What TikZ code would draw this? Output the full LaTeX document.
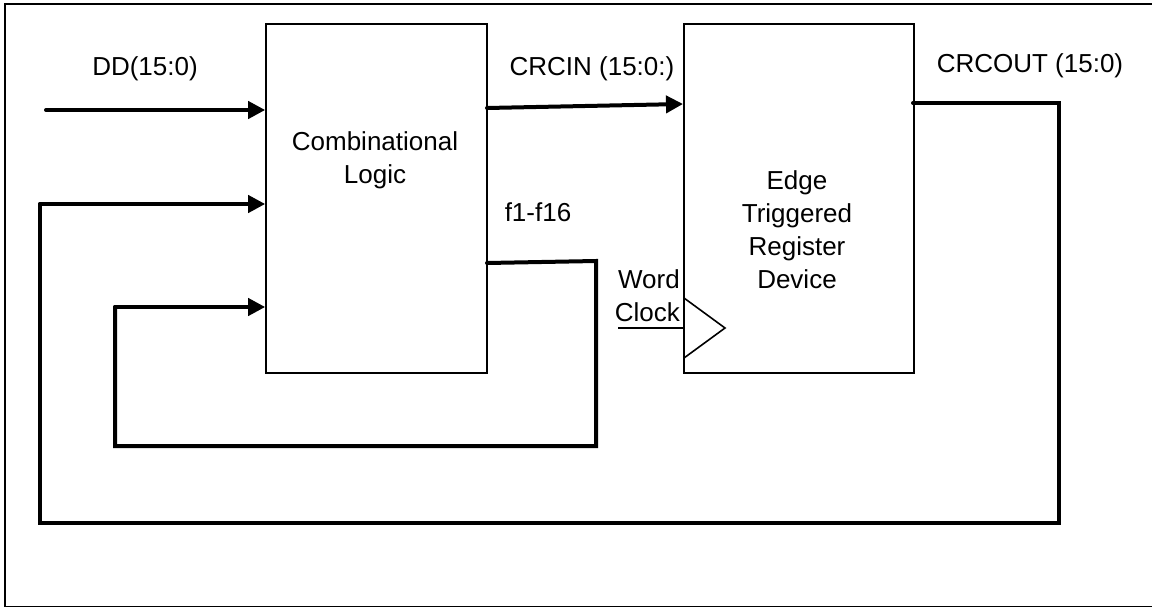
\documentclass[tikz,border=0pt]{standalone}
\usepackage{fontspec}
\setmainfont{Liberation Sans}
\usetikzlibrary{arrows.meta}
\begin{document}
\begin{tikzpicture}[x=1pt,y=-1pt,
  every node/.style={font=\fontsize{26}{33}\selectfont},
  block/.style={draw,line width=1.6pt,inner sep=0pt},
  bus/.style={line width=4pt,line cap=round,line join=miter},
  busarrow/.style={bus,-{Triangle[length=17pt,width=17pt]}},
  wire/.style={line width=1.6pt},
  lbl/.style={inner sep=0pt}]
\useasboundingbox (0,0) rectangle (1152,608);
\clip (0,0) rectangle (1152,608);
% outer frame
\draw[line width=1.6pt] (1160,4) -- (5,4) -- (5,606.5) -- (1160,606.5);
% blocks
\node[block,minimum width=221pt,minimum height=349pt] (comb) at (376.5,198.5) {};
\node[block,minimum width=230pt,minimum height=349pt] (reg) at (799,198.5) {};
\node[lbl,align=center] (combtxt) at (375,160) {Combinational\\Logic};
\node[lbl,align=center] (regtxt) at (797,230) {Edge\\Triggered\\Register\\Device};
% labels
\node[lbl,anchor=base] (ddl) at (145,75) {DD(15:0)};
\node[lbl,anchor=base] (crcinl) at (592,75) {CRCIN (15:0:)};
\node[lbl,anchor=base] (crcoutl) at (1030,72) {CRCOUT (15:0)};
\node[lbl] (fl) at (538,212) {f1-f16};
\node[lbl,align=right,anchor=east] (wcl) at (680,295.5) {Word\\Clock};
% coordinates
\coordinate (ddS) at (46,110);
\coordinate (fbA) at (40,204);
\coordinate (fbB) at (40,523);
\coordinate (fbC) at (1059,523);
\coordinate (fbD) at (1059,103);
\coordinate (crcoutS) at (913,103);
\coordinate (lpA) at (115,307);
\coordinate (lpB) at (115,446);
\coordinate (lpC) at (596,446);
\coordinate (lpD) at (596,261);
\coordinate (fS) at (487,263);
\coordinate (crcinS) at (487,108);
\coordinate (crcinE) at (683,104);
\coordinate (clkS) at (618,328);
\coordinate (triT) at (684,298);
\coordinate (triP) at (725,328);
\coordinate (triB) at (684,358);
% DD input
\draw[busarrow] (ddS) -- (comb.west |- ddS);
% CRCOUT feedback
\draw[bus] (crcoutS) -- (fbD) -- (fbC) -- (fbB) -- (fbA);
\draw[busarrow] (fbA) -- (comb.west |- fbA);
% f1-f16 loop
\draw[bus] (fS) -- (lpD) -- (lpC) -- (lpB) -- (lpA);
\draw[busarrow] (lpA) -- (comb.west |- lpA);
% CRCIN
\draw[busarrow] (crcinS) -- (crcinE);
% clock
\draw[wire] (clkS) -- (reg.west |- clkS);
\draw[wire] (triT) -- (triP) -- (triB);
\end{tikzpicture}
\end{document}
